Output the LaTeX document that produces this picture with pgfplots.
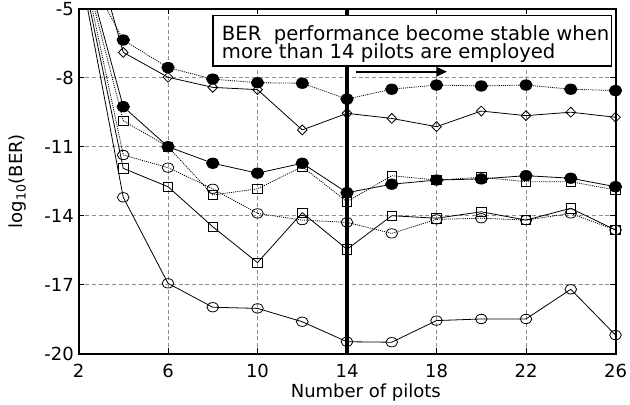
\documentclass[border=0pt]{standalone}
\usepackage{pgfplots}
\pgfplotsset{compat=1.18}
\usepackage{fontspec}
\setmainfont{DejaVu Sans}
\usetikzlibrary{arrows.meta}

% BER versus number of pilots, seven configurations
\pgfplotstableread{
x  a     b      c      d      e      f      g
2  -2.7  0.0    -2.1   -2.3   -2.2   -2.6   -2.9
4  -6.36 -6.90  -9.26  -9.87  -11.36 -11.94 -13.20
6  -7.56 -7.98  -11.00 -11.00 -11.91 -12.74 -16.94
8  -8.06 -8.42  -11.72 -13.10 -12.83 -14.48 -17.98
10 -8.22 -8.52  -12.15 -12.83 -13.90 -16.04 -18.03
12 -8.24 -10.27 -11.72 -11.87 -14.19 -13.87 -18.61
14 -8.93 -9.55  -13.00 -13.39 -14.29 -15.46 -19.48
16 -8.50 -9.77  -12.63 -12.26 -14.77 -14.00 -19.50
18 -8.32 -10.13 -12.45 -12.45 -14.16 -14.11 -18.56
20 -8.36 -9.45  -12.40 -12.33 -14.11 -13.83 -18.49
22 -8.32 -9.65  -12.26 -12.52 -14.19 -14.19 -18.49
24 -8.50 -9.50  -12.37 -12.52 -13.90 -13.68 -17.20
26 -8.56 -9.72  -12.74 -12.88 -14.62 -14.62 -19.19
}\ber

\newcommand{\lbl}{\fontsize{13.5}{16}\selectfont}

\begin{document}
\begin{tikzpicture}
\begin{axis}[
  name=ax,
  scale only axis,
  width=402.75pt, height=258.75pt,
  xmin=2, xmax=26, ymin=-20, ymax=-5,
  xtick={2,6,10,14,18,22,26},
  xticklabels={2,6,10,14,18,22,26},
  ytick={-20,-17,-14,-11,-8,-5},
  yticklabels={-20,-17,-14,-11,-8,-5},
  tick align=inside,
  major tick length=4pt,
  tick style={black, line width=0.6pt},
  tick label style={font=\lbl},
  xticklabel style={anchor=base, yshift=-18.2pt},
  axis line style={line width=1.5pt},
  grid=major,
  major grid style={black!45, line width=0.5pt, dash pattern=on 3pt off 2pt},
  every axis y label/.style={at={(axis description cs:-0.113,0.5)}, rotate=90, anchor=center, font=\lbl},
  every axis x label/.style={at={(axis description cs:0.535,-0.128)}, anchor=base, font=\lbl},
  ylabel={log\textsubscript{10}(BER)},
  xlabel={Number of pilots},
  every axis plot/.append style={black, line width=0.6pt},
]
\addplot[dash pattern=on 0.8pt off 0.8pt, mark=*, mark size=3.9pt, mark options={solid, xscale=1.2, fill=black}] table[x=x, y=a] {\ber};
\addplot[mark=diamond, mark size=3.7pt, mark options={solid, xscale=1.3}] table[x=x, y=b] {\ber};
\addplot[mark=*, mark size=3.9pt, mark options={solid, xscale=1.2, fill=black}] table[x=x, y=c] {\ber};
\addplot[dash pattern=on 0.8pt off 0.8pt, mark=square, mark size=3.5pt, mark options={solid}] table[x=x, y=d] {\ber};
\addplot[dash pattern=on 0.8pt off 0.8pt, mark=o, mark size=3.5pt, mark options={solid, xscale=1.25}] table[x=x, y=e] {\ber};
\addplot[mark=square, mark size=3.5pt, mark options={solid}] table[x=x, y=f] {\ber};
\addplot[mark=o, mark size=3.5pt, mark options={solid, xscale=1.25}] table[x=x, y=g] {\ber};

% threshold at 14 pilots
\draw[line width=2.4pt] (axis cs:14,-20.12) -- (axis cs:14,-5);
% annotation box
\draw[line width=0.8pt, fill=white] (axis cs:8.01,-5.3) rectangle (axis cs:25.8,-7.49);
\node[anchor=base west, inner sep=0pt, font=\fontsize{14.7}{16}\selectfont] at (axis cs:8.40,-6.40) {BER\ \ performance become stable when};
\node[anchor=base west, inner sep=0pt, font=\fontsize{14.7}{16}\selectfont] at (axis cs:8.40,-7.17) {more than 14 pilots are employed};
\draw[-{Triangle[length=8pt, width=7pt]}, line width=1.5pt] (axis cs:14.4,-7.74) -- (axis cs:18.47,-7.74);
\end{axis}
\pgfresetboundingbox
\path ([shift={(-58.875pt,-37.725pt)}]ax.south west) rectangle ([shift={(10.875pt,6.525pt)}]ax.north east);
\end{tikzpicture}
\end{document}
